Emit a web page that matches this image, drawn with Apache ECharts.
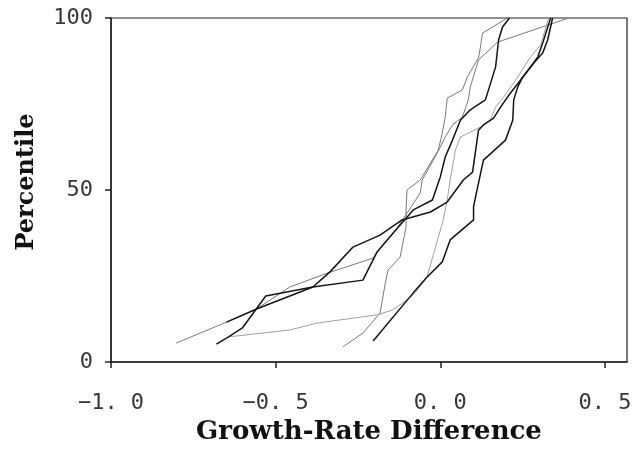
<!DOCTYPE html>
<html>
<head>
<meta charset="utf-8">
<script src="https://cdn.jsdelivr.net/npm/echarts@6/dist/echarts.min.js"></script>
<style>html,body{margin:0;padding:0;background:#fff;}#c{width:637px;height:462px;}</style>
</head>
<body>
<div id="c"></div>
<script>
// Tick labels
const xTicks = [-1.0, -0.5, 0.0, 0.5];
const xTickLabels = ['\u22121. 0', '\u22120. 5', '0. 0', '0. 5'];
const yTicks = [0, 50, 100];
const yTickLabels = ['0', '50', '100'];

// Series: [growth-rate difference, percentile]
const lineX = [[-0.680,5.2],[-0.643,7.3],[-0.601,9.9],[-0.530,19.2],[-0.387,21.8],[-0.235,23.8],[-0.192,32.0],[-0.128,39.2],[-0.082,44.2],[-0.024,47.1],[0.000,53.8],[0.015,59.6],[0.037,64.5],[0.061,70.3],[0.091,73.3],[0.137,76.2],[0.168,85.8],[0.177,93.6],[0.189,97.4],[0.210,100]];
const lineY = [[-0.649,11.6],[-0.558,15.4],[-0.387,21.8],[-0.335,26.2],[-0.265,33.4],[-0.183,36.9],[-0.116,41.3],[-0.030,43.6],[0.021,46.5],[0.070,52.9],[0.098,55.2],[0.116,67.4],[0.131,68.9],[0.162,70.9],[0.183,74.1],[0.213,78.2],[0.244,82.0],[0.284,86.9],[0.311,89.8],[0.326,93.6],[0.341,100]];
const lineE = [[-0.204,6.1],[-0.082,20.1],[-0.040,24.7],[0.006,29.1],[0.030,35.5],[0.101,41.3],[0.101,45.1],[0.107,48.0],[0.131,58.7],[0.198,64.5],[0.220,70.3],[0.223,76.2],[0.235,79.9],[0.250,82.8],[0.274,85.8],[0.296,88.7],[0.311,92.7],[0.335,100]];
const lineW = [[-0.643,7.3],[-0.457,9.3],[-0.375,11.3],[-0.192,13.7],[-0.146,15.1],[-0.113,17.2],[-0.082,19.5],[-0.040,24.7],[-0.024,30.2],[-0.006,36.3],[0.009,41.3],[0.021,47.1],[0.030,52.9],[0.046,61.6],[0.061,65.4],[0.122,68.3],[0.152,70.3],[0.168,74.1],[0.192,77.0],[0.223,81.1],[0.274,88.7],[0.305,92.2],[0.329,100]];
const lineV = [[-0.296,4.4],[-0.235,8.4],[-0.183,14.2],[-0.168,22.4],[-0.159,26.7],[-0.122,30.5],[-0.104,39.2],[-0.104,44.2],[-0.101,50.0],[-0.061,52.9],[-0.006,61.6],[0.006,66.6],[0.015,71.2],[0.021,76.7],[0.067,79.1],[0.082,82.8],[0.116,88.4],[0.122,91.6],[0.128,95.6],[0.204,100]];
const lineZ = [[-0.802,5.5],[-0.649,11.6],[-0.558,15.4],[-0.457,21.8],[-0.341,25.9],[-0.204,30.2],[-0.183,33.1],[-0.131,39.0],[-0.085,45.6],[-0.061,49.1],[-0.055,52.9],[-0.021,58.7],[0.000,62.5],[0.015,65.4],[0.037,68.9],[0.067,71.2],[0.085,76.2],[0.091,79.9],[0.116,87.8],[0.174,93.0],[0.390,100]];

const dark = {color:'#151515', width:1.5};
const gray = {color:'#7a7a7a', width:1};
const light = {color:'#a0a0a0', width:1};

function mk(data, st){
  return {type:'line', data:data, symbol:'none', silent:true, animation:false,
    xAxisIndex:0, yAxisIndex:0,
    lineStyle:{color:st.color, width:st.width}, itemStyle:{color:st.color}};
}
const axisCol = '#222';
const tickFont = {fontFamily:'DejaVu Sans Mono', fontSize:22, color:'#383838'};

const chart = echarts.init(document.getElementById('c'), null, {renderer:'canvas'});
chart.setOption({
  backgroundColor:'#fff',
  animation:false,
  grid:[
    {left:111, right:10, top:18, bottom:100, show:true, borderColor:axisCol, borderWidth:1.2},
    {left:111, right:32, top:18, bottom:100, show:false}
  ],
  xAxis:[
    {type:'value', gridIndex:0, min:-1.0, max:0.567,
      axisLine:{show:true, onZero:false, lineStyle:{color:axisCol, width:1.5}},
      axisTick:{show:false}, axisLabel:{show:false}, splitLine:{show:false},
      name:'Growth-Rate Difference', nameLocation:'middle', nameGap:57,
      nameTextStyle:{fontFamily:'DejaVu Serif', fontWeight:'bold', fontSize:26, color:'#111'}
    },
    {type:'value', gridIndex:1, min:-1.0, max:0.5, interval:0.5,
      axisLine:{show:false, onZero:false},
      axisTick:{show:true, inside:false, length:6, lineStyle:{color:axisCol, width:1.5}},
      axisLabel:Object.assign({margin:30, formatter:function(v){const i=xTicks.findIndex(t=>Math.abs(t-v)<1e-6);return i>=0?xTickLabels[i]:'';}}, tickFont),
      splitLine:{show:false}
    }
  ],
  yAxis:[
    {type:'value', gridIndex:0, min:0, max:100, interval:50,
      axisLine:{show:true, onZero:false, lineStyle:{color:axisCol, width:1.5}},
      axisTick:{show:true, inside:false, length:6, lineStyle:{color:axisCol, width:1.5}},
      axisLabel:Object.assign({margin:18, formatter:function(v){const i=yTicks.indexOf(v);return i>=0?yTickLabels[i]:'';}}, tickFont),
      splitLine:{show:false},
      name:'Percentile', nameLocation:'middle', nameGap:72,
      nameTextStyle:{fontFamily:'DejaVu Serif', fontWeight:'bold', fontSize:24, color:'#111', padding:[0,0,0,16]}
    },
    {type:'value', gridIndex:1, min:0, max:100, show:false}
  ],
  series:[mk(lineZ,gray), mk(lineV,gray), mk(lineW,light), mk(lineX,dark), mk(lineY,dark), mk(lineE,dark)]
});
</script>
</body>
</html>
